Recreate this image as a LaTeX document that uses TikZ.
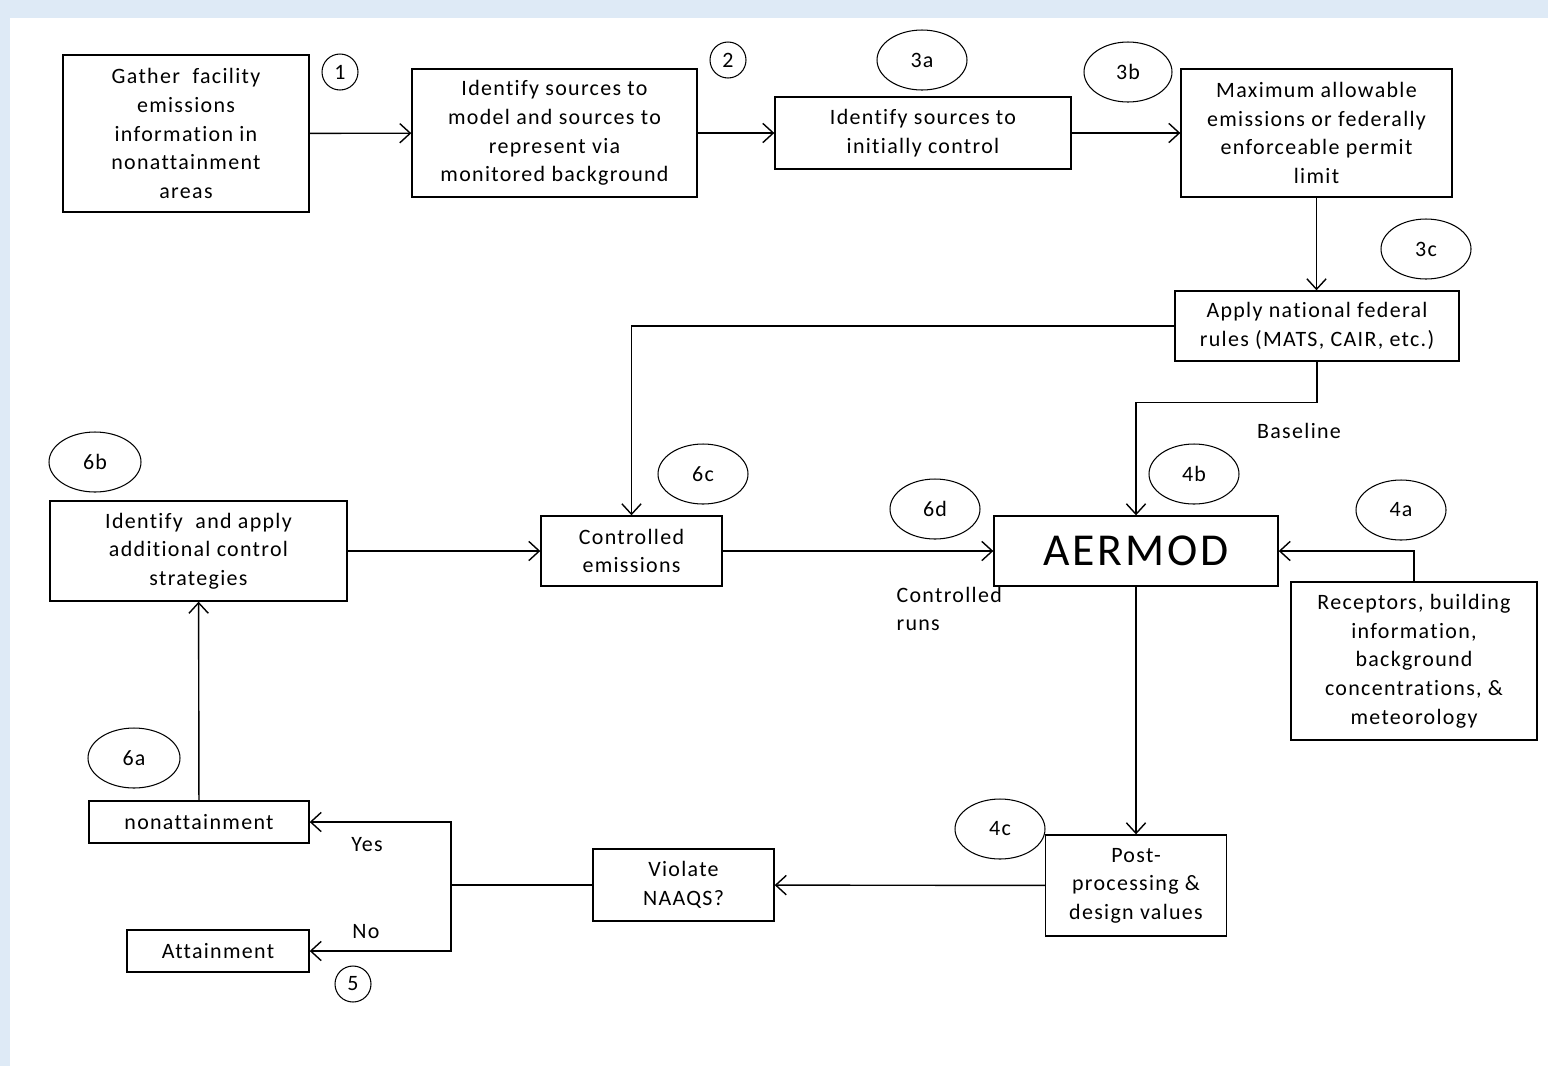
\documentclass[tikz,border=0pt]{standalone}
\usepackage{fontspec}
\setmainfont{Carlito}[LetterSpace=6, Ligatures={NoCommon, NoContextual}]
\usetikzlibrary{arrows.meta, shapes.geometric}
\definecolor{slideblue}{RGB}{222,234,246}

\begin{document}
\begin{tikzpicture}[x=0.02cm, y=-0.02cm, >={Straight Barb[length=6pt, width=11pt]}, line width=0.8pt,
    font=\fontsize{12.5}{16.3}\selectfont,
    box/.style={rectangle, draw, align=center, inner sep=0pt},
    tag/.style={ellipse, draw, line width=0.6pt, minimum width=1.8cm, minimum height=1.2cm, inner sep=0pt},
    num/.style={circle, draw, line width=0.6pt, minimum size=0.72cm, inner sep=0pt}]
        % slide background
        \useasboundingbox (0,0) rectangle (1548,1066);
        \fill[slideblue] (0,0) rectangle (1548,1066);
        \fill[white] (10,18) rectangle (1548,1066);

        % top row
        \node[box, minimum width=4.92cm, minimum height=3.14cm] (gather) at (186,133.5) {Gather\ \ facility\\emissions\\information in\\nonattainment\\areas};
        \node[box, minimum width=5.70cm, minimum height=2.56cm] (ident) at (554.5,133) {Identify sources to\\model and sources to\\represent via\\monitored background};
        \node[box, minimum width=5.92cm, minimum height=1.44cm] (initial) at (923,133) {Identify sources to\\initially control};
        \node[box, minimum width=5.42cm, minimum height=2.56cm] (maxallow) at (1316.5,133) {Maximum allowable\\emissions or federally\\enforceable permit\\limit};
        \node[box, minimum width=5.68cm, minimum height=1.40cm] (federal) at (1317,326) {Apply national federal\\rules (MATS, CAIR, etc.)};

        % middle row
        \node[box, minimum width=5.94cm, minimum height=2.00cm] (strategies) at (198.5,551) {Identify\ \ and apply\\additional control\\strategies};
        \node[box, minimum width=3.62cm, minimum height=1.40cm] (controlled) at (631.5,551) {Controlled\\emissions};
        \node[box, minimum width=5.68cm, minimum height=1.40cm, font=\fontsize{26}{30}\selectfont] (aermod) at (1136,551) {AERMOD};
        \node[box, minimum width=4.92cm, minimum height=3.16cm] (receptors) at (1414,661) {Receptors, building\\information,\\background\\concentrations, \&\\meteorology};

        % bottom row
        \node[box, minimum width=3.62cm, minimum height=2.02cm] (post) at (1136,885.5) {Post-\\processing \&\\design values};
        \node[box, minimum width=3.62cm, minimum height=1.44cm] (violate) at (683.5,885) {Violate\\NAAQS?};
        \node[box, minimum width=4.40cm, minimum height=0.84cm] (nonatt) at (199,822) {nonattainment};
        \node[box, minimum width=3.64cm, minimum height=0.84cm] (attain) at (218,951) {Attainment};
        \coordinate (split) at (451,885);

        % step tags
        \node[num] (n1) at (340,72) {1};
        \node[num] (n2) at (728,60) {2};
        \node[num] (n5) at (353,984) {5};
        \node[tag] (t3a) at (922,60) {3a};
        \node[tag, minimum width=1.76cm] (t3b) at (1128,72) {3b};
        \node[tag] (t3c) at (1426,249) {3c};
        \node[tag] (t4a) at (1401,510) {4a};
        \node[tag] (t4b) at (1194,474) {4b};
        \node[tag] (t4c) at (1000,829) {4c};
        \node[tag, minimum width=1.84cm] (t6a) at (134,758) {6a};
        \node[tag, minimum width=1.84cm] (t6b) at (95,462) {6b};
        \node[tag] (t6c) at (703,474) {6c};
        \node[tag] (t6d) at (935,509) {6d};

        % labels
        \node (baseline) at (1299,431) {Baseline};
        \node[anchor=west, align=left] (runs) at (890,609) {Controlled\\runs};
        \node (yes) at (367,845) {Yes};
        \node (no) at (366,932) {No};

        \draw[->] (gather) -- (ident);
        \draw[->] (ident) -- (initial);
        \draw[->] (initial) -- (maxallow);
        \draw[->] (maxallow.south) -- (maxallow.south |- federal.north);
        \draw[->] (federal.west) -| (controlled.north);
        \draw[->] (federal.south) -- ++(0,41) -| (aermod.north);
        \draw[->] (receptors.north) |- (aermod.east);
        \draw[->] (strategies) -- (controlled);
        \draw[->] (controlled) -- (aermod);
        \draw[->] (aermod) -- (post);
        \draw[->] (post) -- (violate);
        \draw (violate) -- (split);
        \draw[->] (split) |- (nonatt.east);
        \draw[->] (split) |- (attain.east);
        \draw[->] (nonatt) -- (strategies);
    \end{tikzpicture}
\end{document}
